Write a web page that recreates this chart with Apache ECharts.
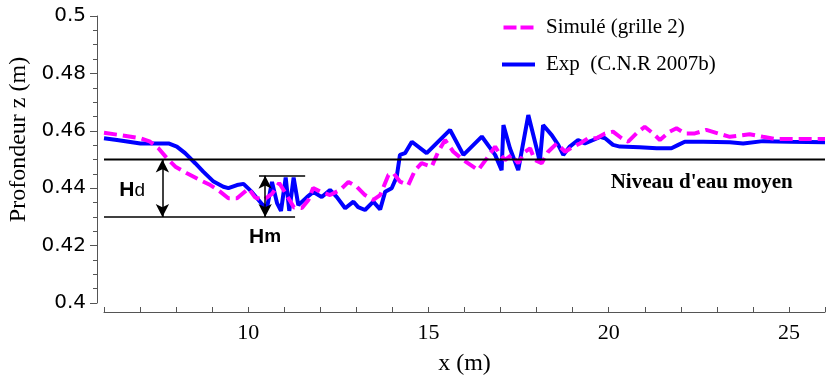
<!DOCTYPE html>
<html><head><meta charset="utf-8">
<script src="https://cdn.jsdelivr.net/npm/echarts@6/dist/echarts.min.js"></script>
<style>html,body{margin:0;padding:0;background:#fff}#c{width:827px;height:378px}</style>
</head><body><div id="c"></div>
<script>
// ---- data ----
const simName = 'Simulé (grille 2)';
const expName = 'Exp  (C.N.R 2007b)';
const simX = [6.0,6.45,7.01,7.28,7.51,7.75,7.98,8.30,8.62,8.95,9.22,9.45,9.69,10.01,10.19,10.42,10.66,10.86,11.04,11.27,11.49,11.67,11.80,12.0,12.27,12.55,12.78,13.01,13.24,13.47,13.66,13.89,14.03,14.21,14.44,14.63,14.81,15.09,15.27,15.46,15.69,15.97,16.38,16.62,16.85,16.94,17.12,17.31,17.49,17.68,17.82,17.95,18.14,18.32,18.56,18.79,19.02,19.20,19.43,19.66,19.90,20.12,20.36,20.54,20.77,21.0,21.23,21.42,21.69,21.88,22.11,22.39,22.71,23.03,23.36,23.91,24.28,24.65,25.21,26.0];
const simZ = [0.4593,0.4585,0.4574,0.4562,0.4539,0.4504,0.4475,0.4452,0.4431,0.4411,0.4388,0.4365,0.4365,0.4399,0.4368,0.4359,0.438,0.4418,0.4382,0.4333,0.4331,0.4359,0.4401,0.4388,0.4376,0.4394,0.4422,0.4405,0.4376,0.4359,0.4376,0.4446,0.4452,0.4423,0.4411,0.4463,0.4487,0.4475,0.4527,0.4568,0.4527,0.4498,0.4463,0.4504,0.4545,0.4527,0.4498,0.4516,0.4487,0.4527,0.4539,0.4498,0.4487,0.4527,0.4556,0.4527,0.4545,0.4556,0.4574,0.4574,0.4591,0.4597,0.4574,0.4562,0.4591,0.4614,0.4591,0.4568,0.4597,0.4609,0.4591,0.4591,0.4603,0.4591,0.4579,0.4588,0.4579,0.4571,0.4571,0.4571];
const expX = [6.0,6.36,7.01,7.42,7.79,8.02,8.25,8.53,8.76,9.04,9.31,9.45,9.69,9.87,10.10,10.38,10.52,10.66,10.80,10.91,11.04,11.14,11.26,11.39,11.63,11.81,12.04,12.27,12.46,12.69,12.92,13.05,13.24,13.47,13.66,13.80,13.98,14.12,14.21,14.35,14.54,14.95,15.60,15.97,16.48,16.85,17.03,17.08,17.26,17.49,17.77,18.0,18.09,18.18,18.42,18.60,18.74,18.92,19.15,19.34,19.57,19.76,19.90,20.12,20.31,20.86,21.33,21.74,21.93,22.11,22.62,23.36,23.73,24.28,25.02,26.0];
const expZ = [0.4574,0.4568,0.4556,0.4556,0.4556,0.4545,0.4522,0.4487,0.4457,0.4423,0.4405,0.44,0.4411,0.4415,0.4387,0.4345,0.4331,0.4422,0.4348,0.4321,0.4437,0.4321,0.4437,0.4341,0.4369,0.4387,0.4369,0.4394,0.4369,0.433,0.4353,0.4334,0.4324,0.4353,0.4326,0.4388,0.44,0.444,0.4516,0.4522,0.4562,0.4522,0.4603,0.4516,0.458,0.4516,0.4463,0.462,0.4539,0.4463,0.4655,0.4539,0.4492,0.462,0.4585,0.4551,0.4516,0.4545,0.4568,0.4556,0.4568,0.4579,0.4574,0.4551,0.4545,0.4543,0.4539,0.4539,0.4551,0.4562,0.4562,0.456,0.4556,0.4564,0.4562,0.456];
const xTickLabels = [10, 15, 20, 25];
// mean water level and the Hd / Hm annotations (data units)
const levelX = [6, 26];
const levelZ = 0.45;
const troughZ = 0.43;
const troughX = [6, 11.3];
const hmTopZ = 0.4443;
const hmTopX = [10.3, 11.58];
const hdArrowX = 7.62;
const hmArrowX = 10.47;
const hdLabelAt = [6.78, 0.4394];
const hmLabelAt = [10.47, 0.423];
const levelLabelAt = [22.58, 0.4418];
const levelText = "Niveau d'eau moyen";

const serif = 'Liberation Serif';
const zip = (a, b) => a.map((v, i) => [v, b[i]]);

const chart = echarts.init(document.getElementById('c'), null, {renderer: 'canvas'});
chart.setOption({
  animation: false,
  backgroundColor: '#fff',
  grid: {left: 104, right: 2, top: 16, bottom: 75, containLabel: false, outerBoundsMode: 'none'},
  legend: {
    orient: 'vertical', left: 497, top: 10,
    itemWidth: 33, itemHeight: 4, itemGap: 12,
    textStyle: {fontFamily: serif, fontSize: 21, color: '#000', lineHeight: 25, padding: [0, 0, 0, 6]},
    data: [
      {name: simName, icon: 'path://M0,0H13V4H0Z M17,0H30V4H17Z', itemStyle: {color: '#ff00ff'}},
      {name: expName, icon: 'rect', itemStyle: {color: '#0000ff'}}
    ]
  },
  xAxis: {
    type: 'value', min: 6, max: 26, interval: 1, offset: 9,
    axisLine: {show: true, lineStyle: {color: '#555', width: 1}},
    axisTick: {show: true, inside: true, length: 5, lineStyle: {color: '#555'}},
    axisLabel: {formatter: v => xTickLabels.includes(v) ? String(v) : '',
      fontFamily: serif, fontSize: 22, color: '#000', margin: 10, showMinLabel: true, showMaxLabel: true},
    splitLine: {show: false},
    name: 'x (m)', nameLocation: 'middle', nameGap: 40,
    nameTextStyle: {fontFamily: serif, fontSize: 24, color: '#000'}
  },
  yAxis: {
    type: 'value', min: 0.4, max: 0.5, interval: 0.02, offset: 7,
    axisLine: {show: true, lineStyle: {color: '#555', width: 1}},
    axisTick: {show: true, inside: false, length: 7, lineStyle: {color: '#555'}},
    minorTick: {show: true, splitNumber: 4, length: 4, lineStyle: {color: '#555'}},
    axisLabel: {fontFamily: 'DejaVu Sans', fontSize: 20, color: '#000', margin: 11},
    splitLine: {show: false},
    name: 'Profondeur z (m)', nameLocation: 'middle', nameRotate: 90, nameGap: 62,
    nameTextStyle: {fontFamily: serif, fontSize: 24, color: '#000', padding: [0, 0, 0, 40]}
  },
  series: [
    {
      name: expName, type: 'line', data: zip(expX, expZ), symbol: 'none', z: 2,
      lineStyle: {color: '#0000ff', width: 4}, itemStyle: {color: '#0000ff'}
    },
    {
      name: simName, type: 'line', data: zip(simX, simZ), symbol: 'none', z: 3,
      lineStyle: {color: '#ff00ff', width: 4, type: [13, 6]}, itemStyle: {color: '#ff00ff'}
    },
    {
      name: 'level', type: 'line', data: levelX.map(x => [x, levelZ]), symbol: 'none', z: 4,
      lineStyle: {color: '#000', width: 2}, silent: true,
      markLine: {
        silent: true, symbol: 'none', label: {show: false},
        lineStyle: {color: '#000', width: 1.5, type: 'solid'},
        data: [
          [{coord: [troughX[0], troughZ]}, {coord: [troughX[1], troughZ]}],
          [{coord: [hmTopX[0], hmTopZ]}, {coord: [hmTopX[1], hmTopZ]}],
          [{coord: [hdArrowX, levelZ], symbol: 'arrow', symbolSize: [10, 13]},
           {coord: [hdArrowX, troughZ], symbol: 'arrow', symbolSize: [10, 13]}],
          [{coord: [hmArrowX, hmTopZ], symbol: 'arrow', symbolSize: [10, 13]},
           {coord: [hmArrowX, troughZ], symbol: 'arrow', symbolSize: [10, 13]}]
        ]
      },
      markPoint: {
        silent: true, symbol: 'circle', symbolSize: 0,
        data: [
          {coord: hdLabelAt, label: {show: true, position: 'inside', formatter: '{a|H}{b|d}',
            rich: {a: {fontFamily: 'Liberation Sans', fontWeight: 'bold', fontSize: 21, color: '#000'},
                   b: {fontFamily: 'Liberation Sans', fontSize: 19, color: '#000', verticalAlign: 'bottom'}}}},
          {coord: hmLabelAt, label: {show: true, position: 'inside', formatter: '{a|H}{b|m}',
            rich: {a: {fontFamily: 'Liberation Sans', fontWeight: 'bold', fontSize: 21, color: '#000'},
                   b: {fontFamily: 'Liberation Sans', fontWeight: 'bold', fontSize: 19, color: '#000'}}}},
          {coord: levelLabelAt, label: {show: true, position: 'inside', formatter: levelText,
            fontFamily: serif, fontWeight: 'bold', fontSize: 21, color: '#000'}}
        ]
      }
    }
  ]
});
</script></body></html>
